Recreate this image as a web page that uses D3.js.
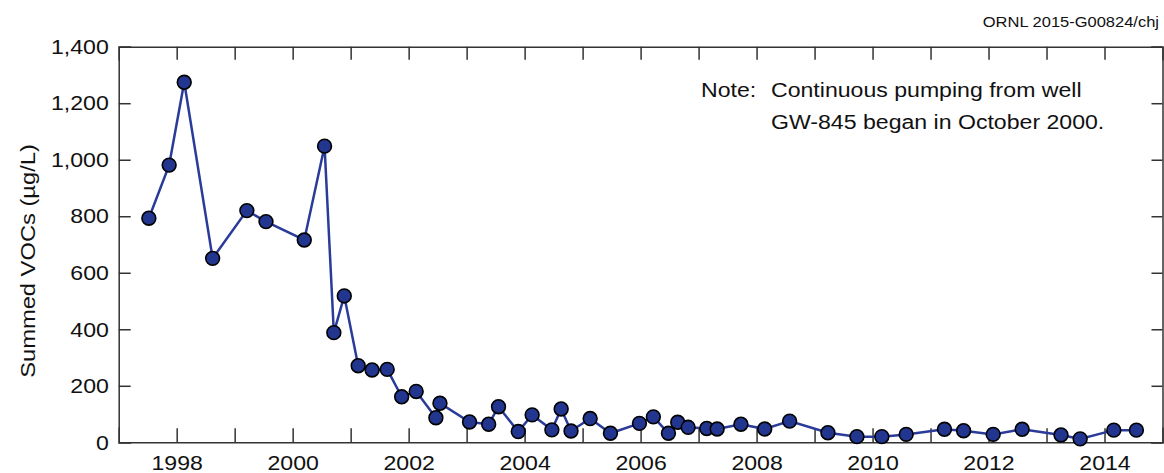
<!DOCTYPE html>
<html>
<head>
<meta charset="utf-8">
<script src="https://cdn.jsdelivr.net/npm/d3@7"></script>
<style>
  body { margin: 0; background: #fff; }
  svg { font-family: "Liberation Sans", Arial, Helvetica, sans-serif; }
  .axis path, .axis line { stroke: #333; stroke-width: 1.5; }
  .axis text { fill: #111; font-size: 21px; }
</style>
</head>
<body>
<div id="chart"></div>
<script>
var w = 1164, h = 473;
var margin = {top: 46.7, right: 1.5, bottom: 30.7, left: 118.7};
var stretch = "scale(1.1,1)"; // the reference lettering is a bit wider than Arial

// sample dates (decimal years) and summed VOCs (ug/L)
var dates = [
  1997.52, 1997.87, 1998.13, 1998.62, 1999.21, 1999.54, 2000.20, 2000.55, 2000.71, 2000.89,
  2001.13, 2001.37, 2001.63, 2001.88, 2002.13, 2002.47, 2002.54, 2003.05, 2003.38, 2003.55,
  2003.89, 2004.13, 2004.47, 2004.63, 2004.80, 2005.13, 2005.48, 2005.98, 2006.22, 2006.48,
  2006.64, 2006.82, 2007.14, 2007.32, 2007.73, 2008.14, 2008.57, 2009.23, 2009.73, 2010.16,
  2010.58, 2011.24, 2011.57, 2012.08, 2012.58, 2013.25, 2013.58, 2014.16, 2014.55
];
var vocs = [
  793, 981, 1274, 651, 820, 781, 716, 1048, 388, 518,
  271, 256, 258, 161, 180, 87, 138, 72, 64, 126,
  38, 97, 44, 118, 40, 84, 32, 67, 90, 32,
  71, 53, 49, 47, 64, 47, 75, 34, 20, 20,
  28, 46, 41, 28, 46, 26, 12, 43, 43
];
var yearTicks = d3.range(1998, 2015);
var vocTicks = [0, 200, 400, 600, 800, 1000, 1200, 1400];
var noteLines = ["Continuous pumping from well", "GW-845 began in October 2000."];

var data = dates.map(function(d, i){ return {t: d, v: vocs[i]}; });

var svg = d3.select("#chart").append("svg").attr("width", w).attr("height", h);

var x = d3.scaleLinear().domain([1997, 2015]).range([margin.left, w - margin.right]);
var y = d3.scaleLinear().domain([0, 1400]).range([h - margin.bottom, margin.top]);

// axes, ticks pointing inward
svg.append("g").attr("class", "axis")
  .attr("transform", "translate(0," + y(0) + ")")
  .call(d3.axisBottom(x).tickValues(yearTicks).tickSize(-14).tickPadding(13)
    .tickFormat(function(d){ return d % 2 === 0 ? d : ""; }))
  .selectAll("text").attr("transform", stretch);
svg.append("g").attr("class", "axis")
  .attr("transform", "translate(0," + y(1400) + ")")
  .call(d3.axisTop(x).tickValues(yearTicks).tickSize(-13).tickFormat(""));
svg.append("g").attr("class", "axis")
  .attr("transform", "translate(" + x(1997) + ",0)")
  .call(d3.axisLeft(y).tickValues(vocTicks).tickSize(-12).tickPadding(9)
    .tickFormat(d3.format(",")))
  .selectAll("text").attr("transform", stretch);
svg.append("g").attr("class", "axis")
  .attr("transform", "translate(" + x(2015) + ",0)")
  .call(d3.axisRight(y).tickValues(vocTicks).tickSize(-11).tickFormat(""));

svg.selectAll(".axis .domain").attr("stroke-linecap", "square");

// y axis title
svg.append("text")
  .attr("transform", "translate(35,261) rotate(-90) scale(1.13,1)")
  .attr("text-anchor", "middle")
  .attr("font-size", 21)
  .attr("fill", "#111")
  .text("Summed VOCs (\u00b5g/L)");

// series
var line = d3.line().x(function(d){ return x(d.t); }).y(function(d){ return y(d.v); });
svg.append("path").datum(data)
  .attr("d", line)
  .attr("fill", "none")
  .attr("stroke", "#2a3b99")
  .attr("stroke-width", 2.5);

svg.selectAll("circle.pt").data(data).enter().append("circle")
  .attr("class", "pt")
  .attr("cx", function(d){ return x(d.t); })
  .attr("cy", function(d){ return y(d.v); })
  .attr("r", 6.9)
  .attr("fill", "#22368f")
  .attr("stroke", "#000")
  .attr("stroke-width", 1.6);

// note
var note = svg.append("g").attr("transform", "translate(701,96.5) " + stretch);
note.append("text").attr("x", 0).attr("y", 0)
  .attr("font-size", 21).attr("fill", "#111").text("Note:");
note.selectAll("text.note").data(noteLines).enter().append("text")
  .attr("class", "note")
  .attr("x", (771 - 701) / 1.1)
  .attr("y", function(d, i){ return i * 32.5; })
  .attr("font-size", 21).attr("fill", "#111")
  .text(function(d){ return d; });

// figure id
svg.append("text")
  .attr("transform", "translate(1159,27.3) " + stretch)
  .attr("text-anchor", "end").attr("font-size", 15).attr("fill", "#111")
  .text("ORNL 2015-G00824/chj");
</script>
</body>
</html>
